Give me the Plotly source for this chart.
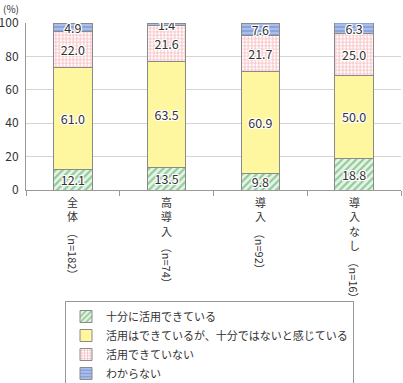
import plotly.graph_objects as go

categories = ["全体", "高導入", "導入", "導入なし"]
n_labels = ["（n=182）", "（n=74）", "（n=92）", "（n=16）"]
series_names = [
    "十分に活用できている",
    "活用はできているが、十分ではないと感じている",
    "活用できていない",
    "わからない",
]
v_full = [12.1, 13.5, 9.8, 18.8]
v_partial = [61.0, 63.5, 60.9, 50.0]
v_not = [22.0, 21.6, 21.7, 25.0]
v_unknown = [4.9, 1.4, 7.6, 6.3]
y_ticks = [0, 20, 40, 60, 80, 100]

FONT = "Noto Sans CJK JP"
TXT = "#333333"
shadow = "1px 0 0 #fff, -1px 0 0 #fff, 0 1px 0 #fff, 0 -1px 0 #fff, 1px 1px 0 #fff, -1px -1px 0 #fff, 1px -1px 0 #fff, -1px 1px 0 #fff"

styles = [
    dict(color="#e6f5e6", pattern=dict(shape="/", fgcolor="#3f9f4f", bgcolor="#e6f5e6", size=5, solidity=0.45)),
    dict(color="#fff6a0", pattern=None),
    dict(color="#ffffff", pattern=dict(shape="+", fgcolor="#f07f86", bgcolor="#ffffff", size=3.5, solidity=0.5)),
    dict(color="#88a4dc", pattern=dict(shape="-", fgcolor="#dde7f8", bgcolor="#88a4dc", size=4, solidity=0.4)),
]
values = [v_full, v_partial, v_not, v_unknown]

fig = go.Figure()
for name, vals, st in zip(series_names, values, styles):
    marker = dict(color=st["color"], line=dict(color="#8a8a8a", width=1))
    if st["pattern"]:
        marker["pattern"] = st["pattern"]
    fig.add_trace(go.Bar(
        x=categories, y=vals, name=name, marker=marker,
        texttemplate="%{y:.1f}", textposition="inside", insidetextanchor="middle",
        textangle=0, constraintext="none",
        textfont=dict(family=FONT, size=12.5, color=TXT, shadow=shadow),
        hoverinfo="skip",
    ))

annotations = []
line_h = 14.3
for cat, nl in zip(categories, n_labels):
    annotations.append(dict(
        x=cat, xref="x", y=0, yref="paper", yanchor="top", xanchor="center",
        yshift=-3, text="<br>".join(list(cat)), showarrow=False, borderpad=0,
        font=dict(family=FONT, size=11, color=TXT),
    ))
    annotations.append(dict(
        x=cat, xref="x", y=0, yref="paper", yanchor="top", xanchor="center",
        yshift=-(5 + len(cat) * line_h + 3), text=nl, textangle=90, showarrow=False,
        borderpad=0, font=dict(family=FONT, size=11, color=TXT),
    ))
annotations.append(dict(
    x=-24 / 375, xref="paper", y=1 + 23 / 167, yref="paper", xanchor="left", yanchor="top",
    text="(%)", showarrow=False, borderpad=0, font=dict(family=FONT, size=10, color=TXT),
))

fig.update_layout(
    width=403, height=383,
    margin=dict(l=26, r=2, t=23, b=193, autoexpand=False),
    barmode="stack", bargap=0.59,
    paper_bgcolor="white", plot_bgcolor="white",
    font=dict(family=FONT, color=TXT),
    showlegend=True,
    legend=dict(
        x=39 / 375, xanchor="left", y=-111 / 167, yanchor="top",
        traceorder="normal", orientation="v",
        bordercolor="#999999", borderwidth=1, bgcolor="white",
        font=dict(family=FONT, size=11, color=TXT),
        itemwidth=30, tracegroupgap=0,
    ),
    annotations=annotations,
)
fig.update_xaxes(
    showticklabels=False, showline=True, linecolor="#999999", linewidth=1,
    ticks="outside", tickson="boundaries", ticklen=5, tickcolor="#999999",
    showgrid=False, zeroline=False, automargin=False,
)
fig.update_yaxes(
    range=[0, 100], tickvals=y_ticks, showline=True, linecolor="#999999", linewidth=1,
    showgrid=True, gridcolor="#d4d4d4", gridwidth=1, zeroline=False, automargin=False,
    ticks="", tickfont=dict(family=FONT, size=12, color=TXT), ticklabelstandoff=4,
)

fig.write_html(
    "out.html",
    config={"displayModeBar": False},
    post_script="document.body.style.margin='0';document.body.style.overflow='hidden';",
)
